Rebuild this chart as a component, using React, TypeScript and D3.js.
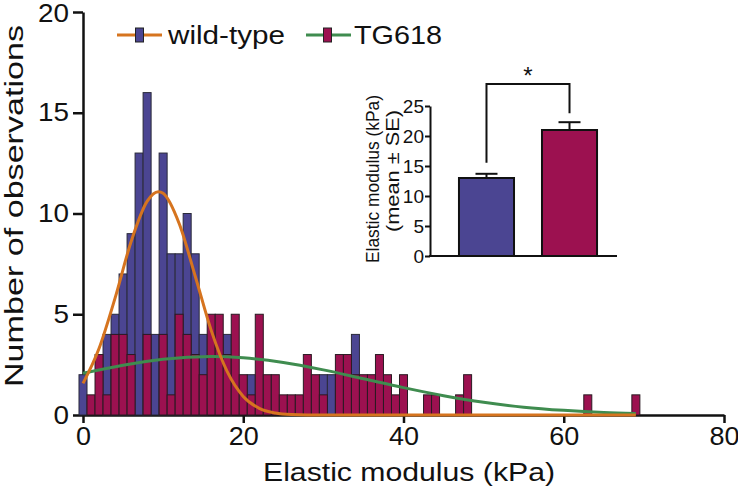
import React, { useEffect, useRef } from 'react';
import * as d3 from 'd3';

// Histogram bins (bin centres in kPa, width 1)
const binCenters = [0,1,2,3,4,5,6,7,8,9,10,11,12,13,14,15,16,17,18,19,20,21,22,23,24,25,26,27,28,29,30,31,32,33,34,35,36,37,38,39,40,41,42,43,44,45,46,47,48,49,50,51,52,53,54,55,56,57,58,59,60,61,62,63,64,65,66,67,68,69];
const wildTypeCounts = [2,0,0,4,5,7,9,13,16,4,13,8,8,10,8,4,0,0,4,0,0,2,0,0,0,0,0,0,0,0,2,2,0,0,4,0,0,0,0,0,0,0,0,0,0,0,0,0,0,0,0,0,0,0,0,0,0,0,0,0,0,0,0,0,0,0,0,0,0,0];
const tg618Counts = [0,1,3,1,4,4,3,0,4,0,4,1,5,4,3,2,5,5,3,5,2,1,5,2,2,1,1,1,3,2,1,0,3,3,2,2,2,3,2,1,2,0,0,1,1,0,0,1,2,0,0,0,0,0,0,0,0,0,0,0,0,0,0,1,0,0,0,0,0,1];

// Fitted curves, points
const wtFitX = [0,2,4,6,8,9.4,10,12,14,16,18,20,22,24,26,28,40,50,60,69];
const wtFitY = [1.57,3.3,5.8,8.6,10.6,11.08,11.0,9.5,6.9,4.2,2.15,0.92,0.33,0.1,0.02,0,0,0,0,0];
const tgFitX = [0,5,10,16,20,25,30,35,40,45,50,55,60,65,69];
const tgFitY = [2.07,2.47,2.77,2.9,2.84,2.61,2.24,1.8,1.36,0.96,0.63,0.39,0.23,0.12,0.07];

const xTicks = [0,20,40,60,80];
const yTicks = [0,5,10,15,20];

// Inset
const insetGroups = ['wild-type','TG618'];
const insetMeans = [13,21];
const insetSE = [0.7,1.3];
const insetTicks = [0,5,10,15,20,25];

const legendLabels = ['wild-type','TG618'];

const BLUE = '#4b4592';
const MAGENTA = '#9c1150';
const ORANGE = '#d6741f';
const GREEN = '#3f8c4f';
const FONT = '"Liberation Sans", Arial, Helvetica, sans-serif';

export default function App() {
  const ref = useRef<SVGSVGElement>(null);
  useEffect(() => {
    const svg = d3.select(ref.current);
    svg.selectAll('*').remove();
    svg.style('font-family', FONT);

    const x = d3.scaleLinear().domain([0, 80]).range([83, 724]);
    const y = d3.scaleLinear().domain([0, 20]).range([415, 12]);
    const bw = x(1) - x(0);

    // axes
    const xa = svg.append('g').attr('transform', `translate(0,${y(0)})`)
      .call(d3.axisBottom(x).tickValues(xTicks).tickSize(8).tickSizeOuter(0).tickPadding(4));
    xa.selectAll('text').attr('font-size', 25).attr('font-family', FONT).attr('fill', '#111')
      .attr('textLength', (d: any) => String(d).length * 15).attr('lengthAdjust', 'spacingAndGlyphs');
    const ya = svg.append('g').attr('transform', `translate(${x(0)},0)`)
      .call(d3.axisLeft(y).tickValues(yTicks).tickSize(10).tickSizeOuter(0).tickPadding(4));
    ya.selectAll('text').attr('font-size', 25).attr('font-family', FONT).attr('fill', '#111')
      .attr('textLength', (d: any) => String(d).length * 15.5).attr('lengthAdjust', 'spacingAndGlyphs');
    ya.selectAll('.tick').filter((d: any) => d === 20).select('text').attr('dy', '0.38em');
    svg.selectAll('.domain, .tick line').attr('stroke', '#111').attr('stroke-width', 2.5);

    // bars
    const gb = svg.append('g');
    binCenters.forEach((c, i) => {
      const v = wildTypeCounts[i];
      if (v > 0) gb.append('rect').attr('x', x(c - 0.5)).attr('width', bw).attr('y', y(v)).attr('height', y(0) - y(v))
        .attr('fill', BLUE).attr('stroke', '#2a2a3a').attr('stroke-width', 1);
    });
    binCenters.forEach((c, i) => {
      const v = tg618Counts[i];
      if (v > 0) gb.append('rect').attr('x', x(c - 0.5)).attr('width', bw).attr('y', y(v)).attr('height', y(0) - y(v))
        .attr('fill', MAGENTA).attr('stroke', '#2a1a22').attr('stroke-width', 1);
    });

    // fit curves
    const line = d3.line<[number, number]>().x(d => x(d[0])).y(d => y(d[1])).curve(d3.curveMonotoneX);
    svg.append('path').attr('d', line(tgFitX.map((v, i) => [v, tgFitY[i]]) as any)!)
      .attr('fill', 'none').attr('stroke', GREEN).attr('stroke-width', 3);
    svg.append('path').attr('d', line(wtFitX.map((v, i) => [v, wtFitY[i]]) as any)!)
      .attr('fill', 'none').attr('stroke', ORANGE).attr('stroke-width', 3);

    // axis titles
    svg.append('text').attr('x', 409).attr('y', 481).attr('text-anchor', 'middle')
      .attr('font-size', 25.5).attr('fill', '#111').attr('textLength', 292).attr('lengthAdjust', 'spacingAndGlyphs')
      .text('Elastic modulus (kPa)');
    svg.append('text').attr('transform', 'translate(22.5,206) rotate(-90)').attr('text-anchor', 'middle')
      .attr('font-size', 25).attr('fill', '#111').attr('textLength', 362).attr('lengthAdjust', 'spacingAndGlyphs')
      .text('Number of observations');

    // legend
    const leg = [
      { lx: 117, rx: 135.5, tx: 168, tl: 117, col: ORANGE, fill: BLUE },
      { lx: 306, rx: 323.5, tx: 354, tl: 88, col: GREEN, fill: MAGENTA },
    ];
    leg.forEach((l, i) => {
      svg.append('line').attr('x1', l.lx).attr('x2', l.lx + 45).attr('y1', 35).attr('y2', 35)
        .attr('stroke', l.col).attr('stroke-width', 3);
      svg.append('rect').attr('x', l.rx).attr('y', 28).attr('width', 8).attr('height', 14)
        .attr('fill', l.fill).attr('stroke', '#222').attr('stroke-width', 1);
      svg.append('text').attr('x', l.tx).attr('y', 44).attr('font-size', 25).attr('fill', '#111')
        .attr('textLength', l.tl).attr('lengthAdjust', 'spacingAndGlyphs').text(legendLabels[i]);
    });

    // inset
    const yi = d3.scaleLinear().domain([0, 25]).range([256, 106]);
    const xi = d3.scaleBand().domain(insetGroups).range([430, 626]).paddingInner(0.337).paddingOuter(0.349);
    const ia = svg.append('g').attr('transform', 'translate(430,0)')
      .call(d3.axisLeft(yi).tickValues(insetTicks).tickSize(5).tickSizeOuter(0).tickPadding(1));
    ia.selectAll('text').attr('font-size', 19).attr('font-family', FONT).attr('fill', '#111');
    ia.selectAll('.domain, .tick line').attr('stroke', '#111').attr('stroke-width', 2);
    svg.append('line').attr('x1', 429).attr('x2', 617).attr('y1', yi(0)).attr('y2', yi(0))
      .attr('stroke', '#111').attr('stroke-width', 2);
    insetGroups.forEach((g, i) => {
      const bx = xi(g)!;
      const w = xi.bandwidth();
      const cx = bx + w / 2;
      const top = yi(insetSE[i] + insetMeans[i]);
      svg.append('line').attr('x1', cx).attr('x2', cx).attr('y1', yi(insetMeans[i])).attr('y2', top)
        .attr('stroke', '#111').attr('stroke-width', 2);
      svg.append('line').attr('x1', cx - 11).attr('x2', cx + 11).attr('y1', top).attr('y2', top)
        .attr('stroke', '#111').attr('stroke-width', 2);
      svg.append('rect').attr('x', bx).attr('width', w).attr('y', yi(insetMeans[i])).attr('height', yi(0) - yi(insetMeans[i]))
        .attr('fill', i === 0 ? BLUE : MAGENTA).attr('stroke', '#111').attr('stroke-width', 2);
    });
    // significance bracket
    const c0 = xi(insetGroups[0])! + xi.bandwidth() / 2;
    const c1 = xi(insetGroups[1])! + xi.bandwidth() / 2;
    svg.append('path')
      .attr('d', `M${c0},${yi(insetMeans[0] + insetSE[0]) - 11}V84H${c1}V${yi(insetMeans[1] + insetSE[1]) - 9}`)
      .attr('fill', 'none').attr('stroke', '#111').attr('stroke-width', 2);
    svg.append('text').attr('x', (c0 + c1) / 2).attr('y', 84).attr('text-anchor', 'middle')
      .attr('font-size', 24).attr('fill', '#111').text('*');
    // inset y label
    svg.append('text').attr('transform', 'translate(379,179) rotate(-90)').attr('text-anchor', 'middle')
      .attr('font-size', 18).attr('fill', '#111').attr('textLength', 168).attr('lengthAdjust', 'spacingAndGlyphs')
      .text('Elastic modulus (kPa)');
    svg.append('text').attr('transform', 'translate(399,171) rotate(-90)').attr('text-anchor', 'middle')
      .attr('font-size', 18).attr('fill', '#111').attr('textLength', 122).attr('lengthAdjust', 'spacingAndGlyphs')
      .text('(mean ± SE)');
  }, []);
  return (
    <svg ref={ref} width={738} height={489}
      style={{ position: 'absolute', left: 0, top: 0, background: '#fff', display: 'block' }} />
  );
}
